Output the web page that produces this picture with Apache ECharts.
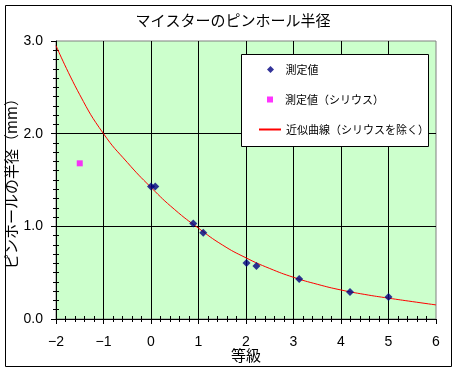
<!DOCTYPE html>
<html><head><meta charset="utf-8">
<script src="https://cdn.jsdelivr.net/npm/echarts@6/dist/echarts.min.js"></script>
<style>html,body{margin:0;padding:0;background:#fff}#c{width:458px;height:373px}</style>
</head><body><div id="c"></div>
<script>
// ---- data ----
const titleText = 'マイスターのピンホール半径';
const xAxisName = '等級';
const yAxisName = 'ピンホールの半径（mm）';
const seriesNames = ['測定値', '測定値（シリウス）', '近似曲線（シリウスを除く）'];
const measuredX = [0.0, 0.09, 0.89, 1.10, 2.01, 2.22, 3.12, 4.19, 5.0];
const measuredY = [1.43, 1.43, 1.03, 0.93, 0.605, 0.573, 0.432, 0.292, 0.238];
const siriusX = [-1.5];
const siriusY = [1.68];
const curveX = [-2, -1.5, -1, -0.5, 0, 0.5, 1, 1.5, 2, 2.5, 3, 3.5, 4, 4.5, 5, 5.5, 6];
const curveY = [2.95, 2.42, 2.0, 1.69, 1.42, 1.18, 0.98, 0.80, 0.66, 0.545, 0.45, 0.375, 0.313, 0.265, 0.225, 0.188, 0.152];
const xTickMin = -2, xTickMax = 6, xTickStep = 1;
const yTickMin = 0, yTickMax = 3, yTickStep = 1;

const FONT = '"Liberation Sans", "Noto Sans CJK JP", sans-serif';
const JFONT = '"Noto Sans CJK JP", "Liberation Sans", sans-serif';
const zip = (a, b) => a.map((v, i) => [v, b[i]]);

const chart = echarts.init(document.getElementById('c'), null, {renderer: 'canvas'});
const gridRect = {left: 56, top: 41, width: 380, height: 278};

const mainX = {
  type: 'value', gridIndex: 0, position: 'bottom', min: xTickMin, max: xTickMax, interval: xTickStep,
  axisLine: {show: true, onZero: false, lineStyle: {color: '#000', width: 1}},
  axisTick: {show: true, length: 5, lineStyle: {color: '#000'}},
  minorTick: {show: true, splitNumber: 5, length: 3, lineStyle: {color: '#000'}},
  splitLine: {show: true, showMinLine: false, showMaxLine: false, lineStyle: {color: '#000', width: 1}},
  axisLabel: {margin: 16, fontSize: 14, color: '#000', fontFamily: FONT,
    formatter: v => v < 0 ? '\u2212' + (-v) : String(v)},
  name: xAxisName, nameLocation: 'middle', nameGap: 29, nameMoveOverlap: false,
  nameTextStyle: {fontSize: 15, color: '#000', fontFamily: JFONT}
};
const mainY = {
  type: 'value', gridIndex: 0, position: 'left', min: yTickMin, max: yTickMax, interval: yTickStep,
  axisLine: {show: true, onZero: false, lineStyle: {color: '#000', width: 1}},
  axisTick: {show: true, length: 5, lineStyle: {color: '#000'}},
  minorTick: {show: true, splitNumber: 10, length: 3, lineStyle: {color: '#000'}},
  splitLine: {show: true, showMinLine: false, showMaxLine: false, lineStyle: {color: '#000', width: 1}},
  axisLabel: {margin: 13, fontSize: 14, color: '#000', fontFamily: FONT,
    formatter: v => v.toFixed(1)},
  name: yAxisName, nameLocation: 'middle', nameGap: 37, nameRotate: 90, nameMoveOverlap: false,
  nameTextStyle: {fontSize: 15, color: '#000', fontFamily: JFONT}
};
// second (invisible) axes on an identical grid: inward minor ticks -> crossing ticks
const innerX = {
  type: 'value', gridIndex: 1, position: 'bottom', min: xTickMin, max: xTickMax, interval: xTickStep,
  axisLine: {show: false, onZero: false}, axisLabel: {show: false}, splitLine: {show: false},
  axisTick: {show: false, inside: true},
  minorTick: {show: true, splitNumber: 5, length: 3, lineStyle: {color: '#000'}}
};
const innerY = {
  type: 'value', gridIndex: 1, position: 'left', min: yTickMin, max: yTickMax, interval: yTickStep,
  axisLine: {show: false, onZero: false}, axisLabel: {show: false}, splitLine: {show: false},
  axisTick: {show: false, inside: true},
  minorTick: {show: true, splitNumber: 10, length: 3, lineStyle: {color: '#000'}}
};

const legendCommon = {
  orient: 'horizontal', padding: 0, itemWidth: 20, selectedMode: false,
  textStyle: {fontSize: 11, color: '#000', fontFamily: JFONT}, z: 10
};

chart.setOption({
  animation: false,
  backgroundColor: '#fff',
  grid: [
    Object.assign({show: true, backgroundColor: '#CCFFCC', borderColor: '#808080', borderWidth: 1,
      containLabel: false, outerBoundsMode: 'none'}, gridRect),
    Object.assign({show: false, containLabel: false, outerBoundsMode: 'none'}, gridRect)
  ],
  xAxis: [mainX, innerX],
  yAxis: [mainY, innerY],
  legend: [
    Object.assign({}, legendCommon, {data: [{name: seriesNames[0], icon: 'path://M1,0L2,1L1,2L0,1Z'}],
      left: 267, top: 64, itemHeight: 7, symbolKeepAspect: true}),
    Object.assign({}, legendCommon, {data: [{name: seriesNames[1], icon: 'path://M0,0L1,0L1,1L0,1Z'}],
      left: 267, top: 94, itemHeight: 6, symbolKeepAspect: true}),
    Object.assign({}, legendCommon, {data: [{name: seriesNames[2], itemStyle: {opacity: 0}}],
      left: 258, top: 124, itemWidth: 22, itemHeight: 8})
  ],
  graphic: [
    {type: 'rect', z: -10, silent: true, shape: {x: 5.5, y: 5.5, width: 446, height: 361},
     style: {fill: 'none', stroke: '#000', lineWidth: 1}},
    {type: 'rect', z: 5, silent: true, shape: {x: 241.5, y: 54.5, width: 187, height: 92},
     style: {fill: '#fff', stroke: '#000', lineWidth: 1}},
    {type: 'text', silent: true, style: {text: titleText, x: 233, y: 20, textAlign: 'center', textVerticalAlign: 'middle',
      font: '15px ' + JFONT, fill: '#000'}}
  ],
  series: [
    {name: seriesNames[2], type: 'line', xAxisIndex: 0, yAxisIndex: 0, data: zip(curveX, curveY),
     smooth: true, symbol: 'none', z: 2,
     lineStyle: {color: '#FF0000', width: 1}, itemStyle: {color: '#FF0000'}},
    {name: seriesNames[0], type: 'scatter', xAxisIndex: 0, yAxisIndex: 0, data: zip(measuredX, measuredY),
     symbol: 'diamond', symbolSize: 8, z: 3, itemStyle: {color: '#000080'}},
    {name: seriesNames[1], type: 'scatter', xAxisIndex: 0, yAxisIndex: 0, data: zip(siriusX, siriusY),
     symbol: 'rect', symbolSize: 6, z: 3, itemStyle: {color: '#FF00FF'}}
  ]
});
</script>
</body></html>
